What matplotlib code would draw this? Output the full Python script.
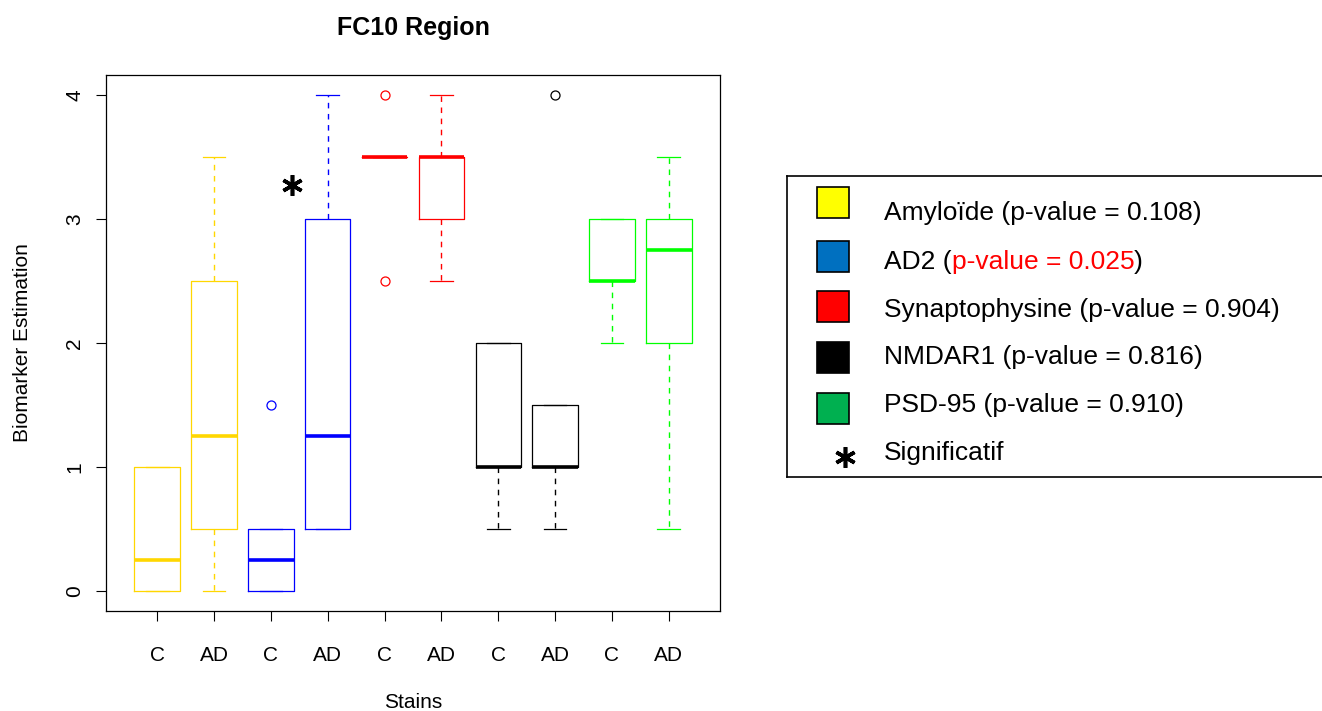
import matplotlib
matplotlib.use("Agg")
import matplotlib.pyplot as plt
from matplotlib.patches import Rectangle

plt.rcParams['font.family'] = ['Liberation Sans', 'DejaVu Sans']

# box summaries (C / AD for each stain)
tick_labels = ["C", "AD", "C", "AD", "C", "AD", "C", "AD", "C", "AD"]
q1 = [0, 0.5, 0, 0.5, 3.5, 3, 1, 1, 2.5, 2]
med = [0.25, 1.25, 0.25, 1.25, 3.5, 3.5, 1, 1, 2.5, 2.75]
q3 = [1, 2.5, 0.5, 3, 3.5, 3.5, 2, 1.5, 3, 3]
whislo = [0, 0, 0, 0.5, 3.5, 2.5, 0.5, 0.5, 2, 0.5]
whishi = [1, 3.5, 0.5, 4, 3.5, 4, 2, 1.5, 3, 3.5]
fliers = [[], [], [1.5], [], [4, 2.5], [], [], [4], [], []]

box_colors = ["#FFD700", "#0000FF", "#FF0000", "#000000", "#00FF00"]

stains = ["Amyloïde", "AD2", "Synaptophysine", "NMDAR1", "PSD-95"]
pvalues = ["0.108", "0.025", "0.904", "0.816", "0.910"]
legend_colors = ["#FFFF00", "#0070C0", "#FF0000", "#000000", "#00B050"]
significant = [False, True, False, False, False]
star_pos = (3.37, 3.27)

W, H = 1322, 711
fig = plt.figure(figsize=(W / 100, H / 100), dpi=100)
ax = fig.add_axes([106 / W, (H - 611) / H, 614 / W, 536 / H])

for k, col in enumerate(box_colors):
    stats = []
    for i in (2 * k, 2 * k + 1):
        stats.append(dict(med=med[i], q1=q1[i], q3=q3[i], whislo=whislo[i],
                          whishi=whishi[i], fliers=fliers[i]))
    ax.bxp(stats, positions=[2 * k + 1, 2 * k + 2], widths=0.8, capwidths=0.4,
           manage_ticks=False,
           boxprops=dict(color=col, lw=0.9),
           whiskerprops=dict(color=col, lw=1.0, linestyle=(0, (4, 4))),
           capprops=dict(color=col, lw=0.9),
           medianprops=dict(color=col, lw=2.6, solid_capstyle='butt'),
           flierprops=dict(marker='o', markerfacecolor='none', markeredgecolor=col,
                           markersize=6.5, markeredgewidth=0.9))

ax.plot(*star_pos, marker=(6, 2, 0), color='black', markersize=15, mew=2.6)

ax.set_xlim(0.1, 10.9)
ax.set_ylim(-0.16, 4.16)
ax.set_xticks(range(1, 11))
ax.set_xticklabels(tick_labels)
ax.set_yticks([0, 1, 2, 3, 4])
ax.tick_params(axis='both', direction='out', length=7.5, width=0.8, labelsize=15)
ax.tick_params(axis='x', pad=18)
ax.tick_params(axis='y', pad=8)
for lab in ax.get_yticklabels():
    lab.set_rotation(90)
    lab.set_va('center')
for s in ax.spines.values():
    s.set_linewidth(0.9)

ax.set_xlabel("Stains", fontsize=15)
ax.xaxis.set_label_coords(0.5, (611 - 703) / 536)
ax.xaxis.label.set_va('center')
ax.set_ylabel("Biomarker Estimation", fontsize=15)
ax.yaxis.set_label_coords((22 - 106) / 614, 0.5)
ax.yaxis.label.set_va('center')

fig.text(413 / W, 1 - 27.5 / H, "FC10 Region", fontsize=18, fontweight='bold',
         ha='center', va='center')

# legend panel, laid out in pixel coordinates
lax = fig.add_axes([787 / W, (H - 477) / H, (1345 - 787) / W, 301 / H])
lax.set_xlim(787, 1345)
lax.set_ylim(477, 176)
lax.set_xticks([])
lax.set_yticks([])
for s in lax.spines.values():
    s.set_linewidth(1.2)

square_y = [202, 256, 306, 357, 408]
text_y = [213, 262, 310, 357, 405]
for name, pv, col, sig, sy, ty in zip(stains, pvalues, legend_colors, significant,
                                      square_y, text_y):
    lax.add_patch(Rectangle((817, sy - 15.5), 32, 31, facecolor=col,
                            edgecolor='black', lw=1.2))
    if sig:
        t1 = lax.text(884, ty, name + " (", fontsize=19, va='center')
        t2 = lax.annotate("p-value = " + pv, xy=(1, 0), xycoords=t1,
                          fontsize=19, color='red', va='bottom')
        lax.annotate(")", xy=(1, 0), xycoords=t2, fontsize=19, va='bottom')
    else:
        lax.text(884, ty, name + " (p-value = " + pv + ")", fontsize=19,
                 va='center')
lax.plot(845, 457, marker=(6, 2, 0), color='black', markersize=15, mew=2.6)
lax.text(884, 453, "Significatif", fontsize=19, va='center')

fig.savefig("out.png", dpi=100)
